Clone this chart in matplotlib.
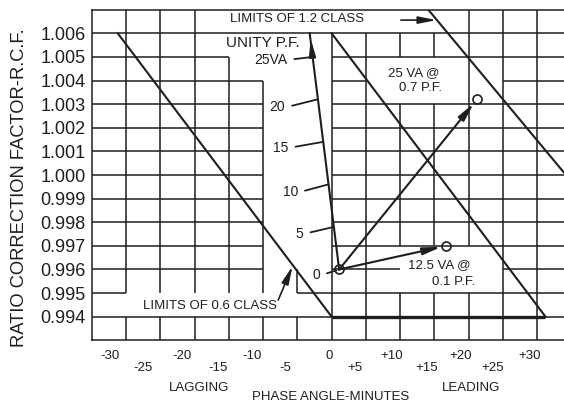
import numpy as np
import matplotlib
from matplotlib import pyplot as plt
from matplotlib.transforms import blended_transform_factory, offset_copy

matplotlib.use("Agg")  # no display in the sandbox

plt.rcParams["font.family"] = ["Liberation Sans", "DejaVu Sans"]

# axis ticks
rcf_ticks = [0.994, 0.995, 0.996, 0.997, 0.998, 0.999, 1.000,
             1.001, 1.002, 1.003, 1.004, 1.005, 1.006]
phase_ticks = [-30, -25, -20, -15, -10, -5, 0, 5, 10, 15, 20, 25, 30]
phase_labels = ["-30", "-25", "-20", "-15", "-10", "-5", "0",
                "+5", "+10", "+15", "+20", "+25", "+30"]

# accuracy class limits (phase angle in minutes, RCF)
class06_phase = [-31.2, 0.0, 31.2, 0.0]
class06_rcf = [1.006, 0.994, 0.994, 1.006]
class12_phase = [14.1, 33.9]
class12_rcf = [1.007, 1.0001]

# burden at unity power factor
va_labels = ["0", "5", "10", "15", "20", "25VA"]
unity_phase = [1.1, 0.3, -0.5, -1.3, -2.1, -2.8]
unity_rcf = [0.9960, 0.9978, 0.9996, 1.0014, 1.0032, 1.0050]
unity_top = (-3.2, 1.006)

# other burdens
pf07_point = (21.2, 1.0032)   # 25 VA @ 0.7 P.F.
pf01_point = (16.7, 0.9970)   # 12.5 VA @ 0.1 P.F.

INK = "#1e1e1e"
GRID_LW = 1.1

fig = plt.figure(figsize=(5.64, 4.03), dpi=100)
ax = fig.add_axes([91.7 / 564, (403 - 340.3) / 403, (564 - 91.7) / 564, 330.6 / 403])
ax.set_xlim(-35, 33.9)
ax.set_ylim(0.993, 1.007)

# grid with the blank areas left open for the labels
h_gaps = {1.005: [(-15, 0)], 1.004: [(-10, 0), (5, 25)], 0.996: [(-10, 0), (10, 25)],
          0.995: [(-30, -5)]}
for y in (1.003, 1.002, 1.001, 1.000, 0.999, 0.998, 0.997):
    h_gaps[y] = [(-10, 0)]
v_gaps = {-30: [(0.994, 0.995)], -25: [(0.994, 0.995)], -20: [(0.994, 0.995)],
          -15: [(0.994, 0.995), (1.005, 1.007)], -10: [(0.994, 0.995), (1.004, 1.007)],
          -5: [(0.994, 0.995), (0.996, 1.007)], 0: [(1.006, 1.007)], 5: [(1.006, 1.007)],
          10: [(0.995, 0.997), (1.003, 1.005), (1.006, 1.007)],
          15: [(0.995, 0.997), (1.003, 1.005), (1.006, 1.007)],
          20: [(0.995, 0.997)]}


def open_segments(lo, hi, gaps):
    out, start = [], lo
    for g0, g1 in sorted(gaps):
        if g0 > start:
            out.append((start, g0))
        start = max(start, g1)
    if start < hi:
        out.append((start, hi))
    return out


for y in rcf_ticks:
    for x0, x1 in open_segments(-35, 33.9, h_gaps.get(round(y, 3), [])):
        ax.hlines(y, x0, x1, color=INK, lw=GRID_LW, zorder=1)
for x in phase_ticks:
    for y0, y1 in open_segments(0.993, 1.007, v_gaps.get(x, [])):
        ax.vlines(x, y0, y1, color=INK, lw=GRID_LW, zorder=1)

for side in ("left", "top", "bottom"):
    ax.spines[side].set_color(INK)
    ax.spines[side].set_linewidth(GRID_LW)
ax.spines["right"].set_visible(False)

# class limit lines
ax.plot(class06_phase[:2], class06_rcf[:2], color=INK, lw=1.5, zorder=3)
ax.plot(class06_phase[1:3], class06_rcf[1:3], color=INK, lw=2.4, zorder=3, solid_capstyle="butt")
ax.plot(class06_phase[2:], class06_rcf[2:], color=INK, lw=1.5, zorder=3)
ax.plot(class12_phase, class12_rcf, color=INK, lw=1.5, zorder=3)

# unity power factor line with VA marks
ax.plot([unity_phase[0], unity_top[0]], [unity_rcf[0], unity_top[1]], color=INK, lw=1.5, zorder=3)
ax.annotate("", xy=(-3.05, 1.00575), xytext=(unity_phase[-1], unity_rcf[-1]),
            arrowprops=dict(arrowstyle="-|>,head_length=0.8,head_width=0.16", color=INK,
                            lw=1.5, shrinkA=0, shrinkB=0, mutation_scale=12), zorder=4)
label_offsets = [(-19, -6), (-30, -7), (-30, -8), (-34, -6), (-32, -8), (-25, -3)]
for lab, px, ry, off in zip(va_labels, unity_phase, unity_rcf, label_offsets):
    ax.annotate(lab, xy=(px, ry), xytext=off, textcoords="offset pixels",
                ha="right", va="center", fontsize=10, color=INK,
                arrowprops=dict(arrowstyle="-", color=INK, lw=1.3, shrinkA=3,
                                shrinkB=2 if lab == "0" else 0, relpos=(1.0, 0.5)))
ax.text(-4.6, 1.00559, "UNITY P.F.", ha="right", va="center", fontsize=11, color=INK)

# lines to the other burdens
for pt in (pf07_point, pf01_point):
    ax.annotate("", xy=pt, xytext=(unity_phase[0], unity_rcf[0]),
                arrowprops=dict(arrowstyle="-|>,head_length=0.9,head_width=0.18", color=INK,
                                lw=1.5, shrinkA=0, shrinkB=3.5, mutation_scale=12), zorder=4)
ax.plot([unity_phase[0], pf07_point[0], pf01_point[0]],
        [unity_rcf[0], pf07_point[1], pf01_point[1]], linestyle="none",
        marker="o", ms=6.5, mfc="none", mec=INK, mew=1.2, zorder=5)

# labels and arrows
ax.text(-5.1, 1.0066, "LIMITS OF 1.2 CLASS", ha="center", va="center", fontsize=9.5, color=INK)
ax.annotate("", xy=(15.3, 1.00656), xytext=(10.1, 1.00656),
            arrowprops=dict(arrowstyle="-|>,head_length=0.9,head_width=0.18", color=INK,
                            lw=1.2, shrinkA=0, shrinkB=0, mutation_scale=12))
ax.text(-17.7, 0.99444, "LIMITS OF 0.6 CLASS", ha="center", va="center", fontsize=9.5, color=INK)
ax.annotate("", xy=(-5.7, 0.99614), xytext=(-7.8, 0.9947),
            arrowprops=dict(arrowstyle="-|>,head_length=0.9,head_width=0.18", color=INK,
                            lw=1.2, shrinkA=0, shrinkB=0, mutation_scale=12))
ax.text(8.2, 1.00432, "25 VA @", ha="left", va="center", fontsize=9.5, color=INK)
ax.text(9.8, 1.00368, "0.7 P.F.", ha="left", va="center", fontsize=9.5, color=INK)
ax.text(11.1, 0.99618, "12.5 VA @", ha="left", va="center", fontsize=9.5, color=INK)
ax.text(14.6, 0.99546, "0.1 P.F.", ha="left", va="center", fontsize=9.5, color=INK)

# axes ticks
ax.set_yticks(rcf_ticks)
ax.set_yticklabels([f"{v:.3f}" for v in rcf_ticks], fontsize=13, color=INK)
ax.tick_params(axis="y", length=0, pad=4.3)
ax.set_xticks([])

tick_nudge = [-16, -17, -13, -11, -11, -12, -2, -11, -8, -8, -8, -10, -8]
blend = blended_transform_factory(ax.transData, fig.transFigure)
for i, (val, lab) in enumerate(zip(phase_ticks, phase_labels)):
    tr = offset_copy(blend, fig=fig, x=tick_nudge[i], y=0, units="dots")
    row_y = 356 if i % 2 == 0 else 368
    ax.text(val, 1 - row_y / 403, lab, transform=tr, ha="center", va="center",
            fontsize=9.5, color=INK)

fig.text(199 / 564, 1 - 388 / 403, "LAGGING", ha="center", va="center", fontsize=9.5, color=INK)
fig.text(471 / 564, 1 - 388 / 403, "LEADING", ha="center", va="center", fontsize=9.5, color=INK)
fig.text(331 / 564, 1 - 397 / 403, "PHASE ANGLE-MINUTES", ha="center", va="center",
         fontsize=9.5, color=INK)
fig.text(19.5 / 564, 1 - 188 / 403, "RATIO CORRECTION FACTOR-R.C.F.", rotation=90,
         ha="center", va="center", fontsize=13.2, color=INK)

fig.savefig("out.png", dpi=100)
plt.close(fig)
